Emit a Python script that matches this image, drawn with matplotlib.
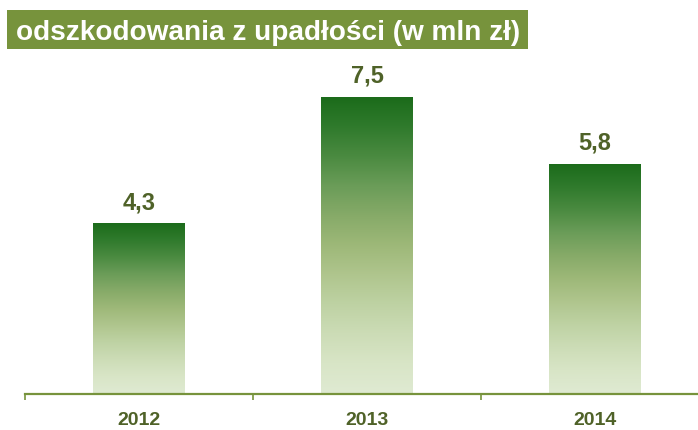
import numpy as np
import matplotlib
matplotlib.use("Agg")
import matplotlib.pyplot as plt
from matplotlib.colors import LinearSegmentedColormap
from matplotlib.patches import Rectangle

title = "odszkodowania z upadłości (w mln zł)"
years = ["2012", "2013", "2014"]
values = [4.3, 7.5, 5.8]
value_labels = ["4,3", "7,5", "5,8"]

W, H = 698, 430
fig = plt.figure(figsize=(W / 100, H / 100), dpi=100)
fig.patch.set_facecolor("white")

FONT = "Liberation Sans"
OLIVE = "#77933C"
DARK = "#4F6228"

# Title box
fig.patches.append(Rectangle((7 / W, 1 - 49 / H), (528 - 7) / W, 39 / H,
                             transform=fig.transFigure, facecolor=OLIVE,
                             edgecolor="none", zorder=0))
t = fig.text(16 / W, 1 - 39.5 / H, title, fontsize=17, fontweight="bold",
             color="white", family=FONT, ha="left", va="baseline")
fig.canvas.draw()
w = t.get_window_extent().width
t.set_fontsize(17 * 506 / w)

# Axes
ax = fig.add_axes([25 / W, 1 - 393.5 / H, (W - 25) / W, (393.5 - 60) / H])
ax.set_facecolor("none")
x = np.arange(len(years))
bw = 0.4
bars = ax.bar(x, values, width=bw, color="none", edgecolor="none")

cmap = LinearSegmentedColormap.from_list(
    "g", [(0.0, "#DFEAD2"), (0.1, "#D8E5C6"), (0.2, "#CCDCB6"),
          (0.3, "#BED2A3"), (0.4, "#AFC58D"), (0.5, "#9DB878"),
          (0.6, "#86AA68"), (0.7, "#6A9C58"), (0.8, "#4A8A40"),
          (0.9, "#2F7A2C"), (1.0, "#1B6B1A")])
grad = np.linspace(0, 1, 256).reshape(-1, 1)
for b in bars:
    x0 = b.get_x()
    im = ax.imshow(grad, extent=[x0, x0 + b.get_width(), 0, b.get_height()],
                   origin="lower", aspect="auto", cmap=cmap, zorder=2,
                   interpolation="bilinear")
    im.set_clip_path(b)

for xi, v, lab in zip(x, values, value_labels):
    ax.annotate(lab, xy=(xi, v), xytext=(0, 10), textcoords="offset points",
                ha="center", va="baseline", fontsize=17, fontweight="bold",
                color=DARK, family=FONT)

for s in ["left", "right", "top"]:
    ax.spines[s].set_visible(False)
ax.spines["bottom"].set_color(OLIVE)
ax.spines["bottom"].set_linewidth(1.6)
ax.set_yticks([])
ax.set_xticks(x)
ax.set_xticklabels(years, fontsize=14, fontweight="bold", color=DARK,
                   family=FONT)
ax.tick_params(axis="x", which="major", length=0, pad=13)
ax.set_xticks(np.arange(-0.5, len(years), 1.0), minor=True)
ax.tick_params(axis="x", which="minor", length=4, width=1.2, color=OLIVE,
               direction="out")

ax.set_xlim(-0.5, -0.5 + (W - 25) / 228)
ax.set_ylim(0, (393.5 - 60) / 39.6)
ax.set_aspect("auto")

fig.savefig("out.png", dpi=100)
